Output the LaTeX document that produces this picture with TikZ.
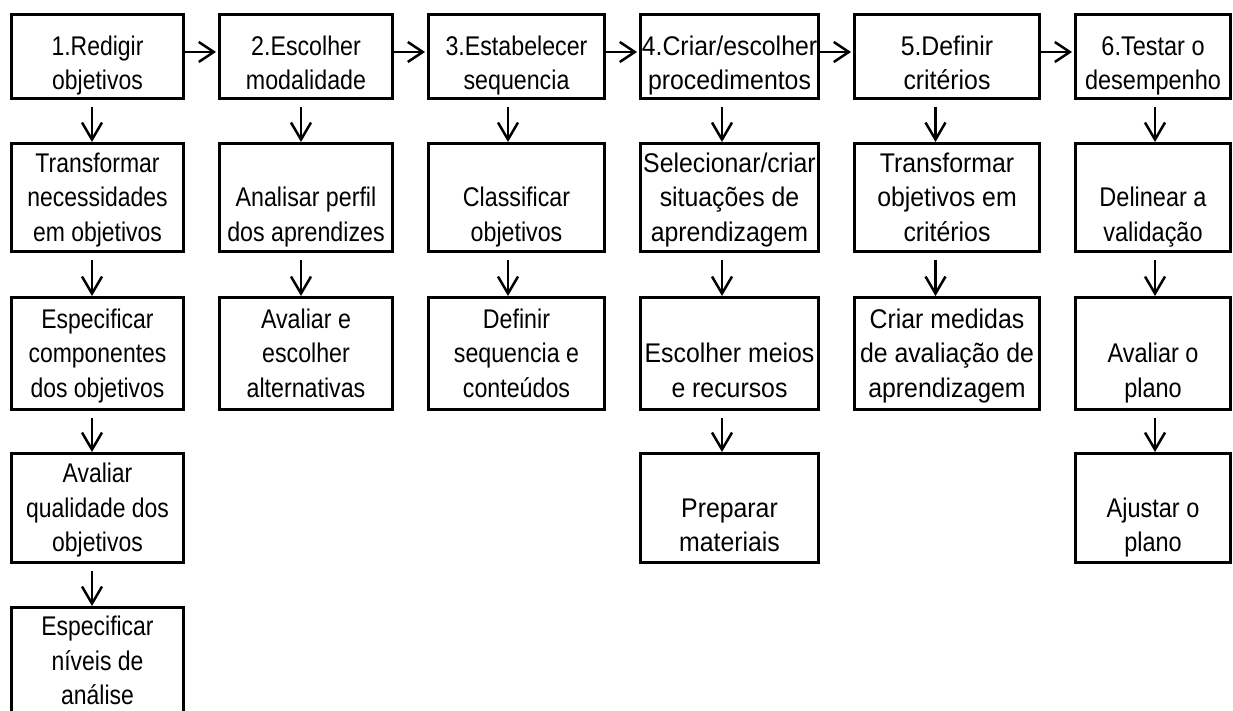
\documentclass[tikz,border=0pt]{standalone}
\usepackage{fontspec}
\setmainfont{Liberation Sans}
% condensed cuts of the same face
\newfontfamily\fH{Liberation Sans}[FakeStretch=0.82]
\newfontfamily\fA{Liberation Sans}[FakeStretch=0.85]
\newfontfamily\fB{Liberation Sans}[FakeStretch=0.86]
\newfontfamily\fC{Liberation Sans}[FakeStretch=0.87]
\newfontfamily\fD{Liberation Sans}[FakeStretch=0.92]
\usetikzlibrary{arrows.meta}
% struts fixing the first and last line of each box
\newcommand\fs{\rule{0pt}{25pt}}
\newcommand\hs{\rule{0pt}{39pt}}
\newcommand\ls{\rule[-7pt]{0pt}{7pt}}
\tikzset{
  box/.style={draw, line width=3pt, inner sep=0pt, align=center},
  head/.style={box, minimum height=84, font=\fH\fontsize{29}{31.7}\selectfont},
  sub/.style={box},
  cA/.style={minimum width=172, font=\fA\fontsize{27}{34.5}\selectfont},
  cB/.style={minimum width=173, font=\fB\fontsize{27}{34.5}\selectfont},
  cC/.style={minimum width=176, font=\fB\fontsize{27}{34.5}\selectfont},
  cD/.style={minimum width=178, font=\fD\fontsize{27}{34.5}\selectfont},
  cE/.style={minimum width=185, font=\fD\fontsize{27}{34.5}\selectfont},
  cF/.style={minimum width=155, font=\fC\fontsize{27}{34.5}\selectfont},
  harr/.style={line width=2.5pt, -{Straight Barb[length=15pt,width=20pt]}, shorten >=2pt},
  varr/.style={line width=2.5pt, -{Straight Barb[length=17pt,width=20pt]}},
}
\begin{document}
\begin{tikzpicture}[x=1pt,y=-1pt]
\useasboundingbox (0,0) rectangle (1233,711);

% top row: the six steps
\node[head,cA] (r1c1) at (97.5,56.5)  {\hs 1.Redigir\\objetivos\ls};
\node[head,cB] (r1c2) at (306,56.5)   {\hs 2.Escolher\\modalidade\ls};
\node[head,cC] (r1c3) at (516.5,56.5) {\hs 3.Estabelecer\\sequencia\ls};
\node[head,cD] (r1c4) at (729.5,56.5) {\hs 4.Criar/escolher\\procedimentos\ls};
\node[head,cE] (r1c5) at (947,56.5)   {\hs 5.Definir\\critérios\ls};
\node[head,cF] (r1c6) at (1153,56.5)  {\hs 6.Testar o\\desempenho\ls};

% second row
\node[sub,cA,minimum height=108] (r2c1) at (97.5,197.5)  {\fs Transformar\\necessidades\\em objetivos\ls};
\node[sub,cB,minimum height=108] (r2c2) at (306,197.5)   {\fs\\Analisar perfil\\dos aprendizes\ls};
\node[sub,cC,minimum height=108] (r2c3) at (516.5,197.5) {\fs\\Classificar\\objetivos\ls};
\node[sub,cD,minimum height=108] (r2c4) at (729.5,197.5) {\fs Selecionar/criar\\situações de\\aprendizagem\ls};
\node[sub,cE,minimum height=108] (r2c5) at (947,197.5)   {\fs Transformar\\objetivos em\\critérios\ls};
\node[sub,cF,minimum height=108] (r2c6) at (1153,197.5)  {\fs\\Delinear a\\validação\ls};

% third row
\node[sub,cA,minimum height=112] (r3c1) at (97.5,353.5)  {\fs Especificar\\componentes\\dos objetivos\ls};
\node[sub,cB,minimum height=112] (r3c2) at (306,353.5)   {\fs Avaliar e\\escolher\\alternativas\ls};
\node[sub,cC,minimum height=112] (r3c3) at (516.5,353.5) {\fs Definir\\sequencia e\\conteúdos\ls};
\node[sub,cD,minimum height=112] (r3c4) at (729.5,353.5) {\fs\\Escolher meios\\e recursos\ls};
\node[sub,cE,minimum height=112] (r3c5) at (947,353.5)   {\fs Criar medidas\\de avaliação de\\aprendizagem\ls};
\node[sub,cF,minimum height=112] (r3c6) at (1153,353.5)  {\fs\\Avaliar o\\plano\ls};

% fourth row
\node[sub,cA,minimum height=109] (r4c1) at (97.5,508)  {\fs Avaliar\\qualidade dos\\objetivos\ls};
\node[sub,cD,minimum height=109] (r4c4) at (729.5,508) {\fs\\Preparar\\materiais\ls};
\node[sub,cF,minimum height=109] (r4c6) at (1153,508)  {\fs\\Ajustar o\\plano\ls};

% fifth row
\node[sub,cA,minimum height=107] (r5c1) at (97.5,661) {\fs Especificar\\níveis de\\análise\ls};

% arrows between the steps
\foreach \a/\b in {r1c1/r1c2, r1c2/r1c3, r1c3/r1c4, r1c4/r1c5, r1c5/r1c6}
  \draw[harr] ([yshift=4.5pt]\a.east) -- ([yshift=4.5pt]\b.west);

% arrows down each column
\foreach \a/\b/\dx in {r1c1/r2c1/-5.5, r2c1/r3c1/-5.5, r3c1/r4c1/-5.5, r4c1/r5c1/-5.5,
                       r1c2/r2c2/-5, r2c2/r3c2/-5,
                       r1c3/r2c3/-8.5, r2c3/r3c3/-8.5,
                       r1c4/r2c4/-7.5, r2c4/r3c4/-7.5, r3c4/r4c4/-7.5,
                       r1c5/r2c5/-11.5, r2c5/r3c5/-11.5,
                       r1c6/r2c6/2, r2c6/r3c6/2, r3c6/r4c6/2}
  \draw[varr] ([xshift=\dx pt,yshift=-7pt]\a.south) -- ([xshift=\dx pt]\b.north);
\end{tikzpicture}
\end{document}
